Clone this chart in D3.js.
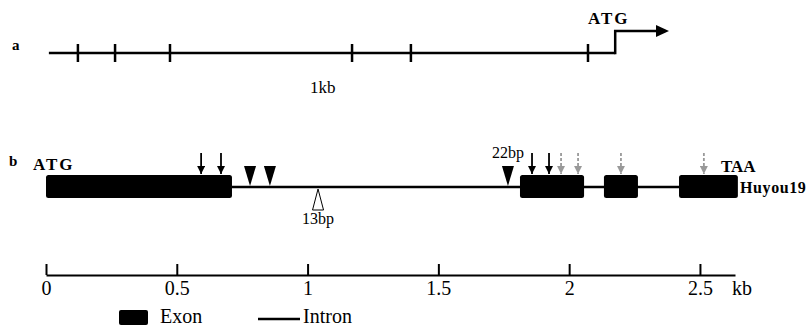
<!DOCTYPE html>
<html>
<head>
<meta charset="utf-8">
<script src="https://cdn.jsdelivr.net/npm/d3@7"></script>
<style>
  body { margin: 0; background: #fff; }
</style>
</head>
<body>
<script>
// promoter (panel a), positions in kb on the same scale as panel b
var promoterStart = 0.011;
var promoterAtg = 2.176;
var promoterTicks = [0.122, 0.264, 0.474, 1.170, 1.395, 2.072];

// gene structure (panel b), kb
var exonStarts = [0.0, 1.812, 2.133, 2.420];
var exonEnds   = [0.711, 2.057, 2.263, 2.645];
var blackArrows = [0.593, 0.669, 1.858, 1.923];
var grayArrows  = [1.969, 2.034, 2.198, 2.515];
var insertions  = [0.780, 0.856, 1.766];   // filled triangles
var insertLabels = ["", "", "22bp"];
var deletions   = [1.040];                 // open triangle
var deletionLabels = ["13bp"];

var axisTicks = [0, 0.5, 1, 1.5, 2, 2.5];

var serif = "Liberation Serif, DejaVu Serif, serif";

var svg = d3.select("body").append("svg")
            .attr("width", 808)
            .attr("height", 326)
            .style("font-family", serif);

var x = d3.scaleLinear().domain([0, 2.634]).range([46, 735]);

function label(xp, yp, size, txt) {
  return svg.append("text")
    .attr("x", xp).attr("y", yp)
    .style("font-family", serif)
    .attr("font-size", size)
    .attr("fill", "#000")
    .text(txt);
}

var defs = svg.append("defs");
defs.append("marker")
    .attr("id", "headBlack")
    .attr("viewBox", "0 0 10 10")
    .attr("refX", 10).attr("refY", 5)
    .attr("markerWidth", 8).attr("markerHeight", 8)
    .attr("markerUnits", "userSpaceOnUse")
    .attr("orient", "auto")
  .append("path").attr("d", "M0,0L10,5L0,10Z").attr("fill", "#000");
defs.append("marker")
    .attr("id", "headGray")
    .attr("viewBox", "0 0 10 10")
    .attr("refX", 10).attr("refY", 5)
    .attr("markerWidth", 8).attr("markerHeight", 8)
    .attr("markerUnits", "userSpaceOnUse")
    .attr("orient", "auto")
  .append("path").attr("d", "M0,0L10,5L0,10Z").attr("fill", "#999");

// ---- panel a ----
var yA = 53;
label(12, 50, 15, "a").attr("font-weight", "bold");

svg.append("line")
   .attr("x1", x(promoterStart)).attr("x2", x(promoterAtg))
   .attr("y1", yA).attr("y2", yA)
   .attr("stroke", "#000").attr("stroke-width", 2.5);

svg.selectAll(".ptick").data(promoterTicks).enter().append("line")
   .attr("class", "ptick")
   .attr("x1", d => x(d)).attr("x2", d => x(d))
   .attr("y1", yA - 9).attr("y2", yA + 9)
   .attr("stroke", "#000").attr("stroke-width", 2.5);

svg.append("path")
   .attr("d", "M" + (x(promoterAtg) - 1) + "," + yA + "H" + x(promoterAtg) + "V31H657")
   .attr("fill", "none").attr("stroke", "#000").attr("stroke-width", 2.5);
svg.append("path")
   .attr("d", "M656,25L669,31L656,37Z")
   .attr("fill", "#000");

label(588, 24, 17, "ATG").attr("font-weight", "bold").attr("letter-spacing", 2);
label(310, 93, 17, "1kb");

// ---- panel b ----
var yB = 187;
label(9, 166, 15, "b").attr("font-weight", "bold");

svg.append("line")
   .attr("x1", x(exonEnds[0])).attr("x2", x(exonStarts[3]))
   .attr("y1", yB).attr("y2", yB)
   .attr("stroke", "#000").attr("stroke-width", 2.5);

svg.selectAll(".exon").data(exonStarts).enter().append("rect")
   .attr("class", "exon")
   .attr("x", d => x(d))
   .attr("y", 175)
   .attr("width", (d, i) => x(exonEnds[i]) - x(d))
   .attr("height", 23)
   .attr("rx", 2.5)
   .attr("fill", "#000");

svg.selectAll(".barrow").data(blackArrows).enter().append("line")
   .attr("class", "barrow")
   .attr("x1", d => x(d)).attr("x2", d => x(d))
   .attr("y1", 153).attr("y2", 174)
   .attr("stroke", "#000").attr("stroke-width", 1.8)
   .attr("marker-end", "url(#headBlack)");

svg.selectAll(".garrow").data(grayArrows).enter().append("line")
   .attr("class", "garrow")
   .attr("x1", d => x(d)).attr("x2", d => x(d))
   .attr("y1", 153).attr("y2", 174)
   .attr("stroke", "#999").attr("stroke-width", 1.8)
   .attr("stroke-dasharray", "3,2")
   .attr("marker-end", "url(#headGray)");

svg.selectAll(".ins").data(insertions).enter().append("path")
   .attr("class", "ins")
   .attr("d", d => "M" + (x(d) - 6) + ",166L" + (x(d) + 6) + ",166L" + x(d) + "," + (yB - 1) + "Z")
   .attr("fill", "#000");
svg.selectAll(".insLabel").data(insertions).enter().append("text")
   .attr("class", "insLabel")
   .attr("x", d => x(d) - 16).attr("y", 158)
   .style("font-family", serif)
   .attr("font-size", 16)
   .text((d, i) => insertLabels[i]);

svg.selectAll(".del").data(deletions).enter().append("path")
   .attr("class", "del")
   .attr("d", d => "M" + x(d) + "," + (yB + 2) + "L" + (x(d) + 5.5) + ",210L" + (x(d) - 5.5) + ",210Z")
   .attr("fill", "#fff").attr("stroke", "#000").attr("stroke-width", 1);
svg.selectAll(".delLabel").data(deletions).enter().append("text")
   .attr("class", "delLabel")
   .attr("x", d => x(d)).attr("y", 224)
   .attr("text-anchor", "middle")
   .style("font-family", serif)
   .attr("font-size", 16)
   .text((d, i) => deletionLabels[i]);

label(33, 170, 17, "ATG").attr("font-weight", "bold").attr("letter-spacing", 2);
label(721, 172, 17, "TAA").attr("font-weight", "bold");
label(740, 193, 16, "Huyou19").attr("font-weight", "bold").attr("letter-spacing", 0.6);

// ---- scale axis ----
var axis = d3.axisBottom(x)
    .tickValues(axisTicks)
    .tickFormat(d3.format(""))
    .tickSizeInner(-11)
    .tickSizeOuter(0)
    .tickPadding(6);

var gAxis = svg.append("g")
   .attr("transform", "translate(0,275)")
   .call(axis)
   .attr("font-size", 20);
gAxis.select(".domain").attr("stroke", "#000").attr("stroke-width", 2);
gAxis.selectAll(".tick line").attr("stroke", "#000").attr("stroke-width", 2);
gAxis.selectAll(".tick text")
   .style("font-family", serif)
   .attr("fill", "#000")
   .attr("dy", null)
   .attr("y", 20);

label(732, 295, 20, "kb");

// ---- legend ----
svg.append("rect").attr("x", 119).attr("y", 310)
   .attr("width", 29).attr("height", 15).attr("rx", 2).attr("fill", "#000");
label(160, 323, 20, "Exon");
svg.append("line").attr("x1", 258).attr("x2", 300)
   .attr("y1", 319).attr("y2", 319)
   .attr("stroke", "#000").attr("stroke-width", 2.5);
label(303, 323, 20, "Intron");
</script>
</body>
</html>
